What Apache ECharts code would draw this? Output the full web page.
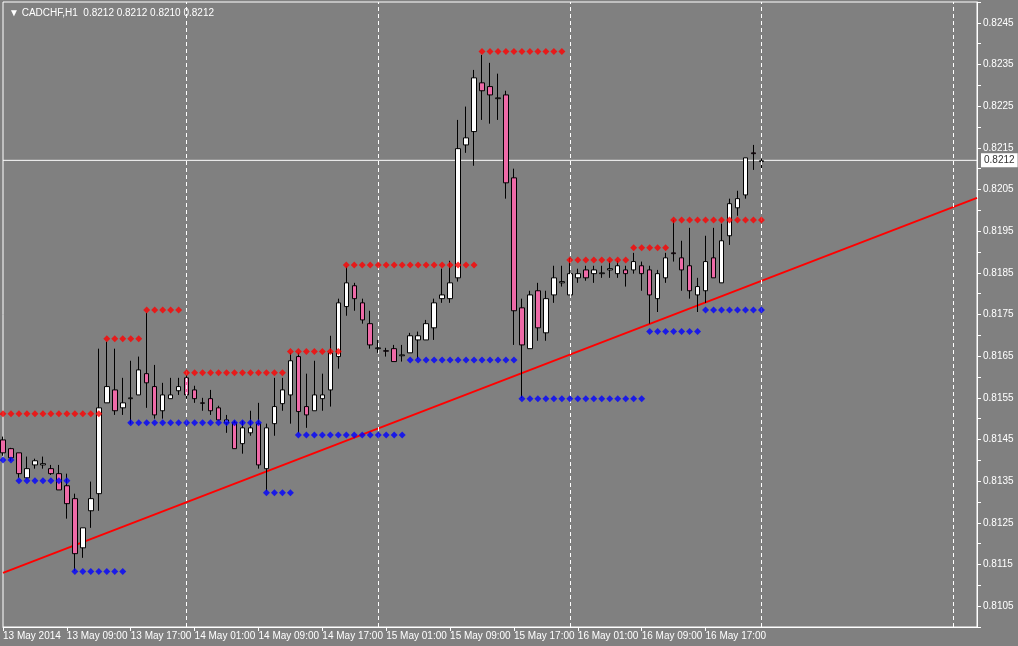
<!DOCTYPE html>
<html>
<head>
<meta charset="utf-8">
<script src="https://cdn.jsdelivr.net/npm/echarts@6/dist/echarts.min.js"></script>
<style>
html, body { margin: 0; padding: 0; background: #808080; }
#chart { width: 1018px; height: 646px; }
</style>
</head>
<body>
<div id="chart"></div>
<script>
// O, C, L, H per hour, 13 May 01:00 onward
var opens = [0.81449,0.81428,0.81418,0.81358,0.81389,0.81389,0.81380,0.81368,0.81339,0.81308,
  0.81190,0.81279,0.81320,0.81538,0.81569,0.81526,0.81548,0.81557,0.81608,0.81577,
  0.81519,0.81548,0.81567,0.81598,0.81569,0.81538,0.81548,0.81526,0.81490,0.81490,
  0.81440,0.81466,0.81488,0.81380,0.81488,0.81536,0.81557,0.81649,0.81529,0.81519,
  0.81548,0.81569,0.81649,0.81769,0.81819,0.81778,0.81728,0.81668,0.81663,0.81668,
  0.81651,0.81658,0.81689,0.81689,0.81718,0.81788,0.81788,0.81838,0.82157,0.82189,
  0.82306,0.82297,0.82268,0.82277,0.82078,0.81766,0.81668,0.81807,0.81706,0.81797,
  0.81826,0.81797,0.81838,0.81857,0.81848,0.81848,0.81857,0.81848,0.81857,0.81857,
  0.81867,0.81857,0.81788,0.81838,0.81898,0.81886,0.81867,0.81797,0.81807,0.81886,
  0.81826,0.81939,0.82006,0.82037,0.82138,0.82117];
var closes = [0.81418,0.81406,0.81368,0.81380,0.81399,0.81392,0.81368,0.81329,0.81296,0.81176,
  0.81238,0.81308,0.81526,0.81577,0.81519,0.81538,0.81550,0.81617,0.81586,0.81509,
  0.81557,0.81557,0.81577,0.81557,0.81548,0.81537,0.81519,0.81497,0.81497,0.81428,
  0.81478,0.81478,0.81389,0.81478,0.81529,0.81569,0.81639,0.81517,0.81509,0.81557,
  0.81557,0.81658,0.81778,0.81826,0.81788,0.81737,0.81677,0.81670,0.81662,0.81637,
  0.81653,0.81699,0.81699,0.81728,0.81778,0.81797,0.81826,0.82148,0.82174,0.82318,
  0.82287,0.82277,0.82270,0.82066,0.81759,0.81677,0.81797,0.81718,0.81788,0.81838,
  0.81829,0.81848,0.81848,0.81838,0.81857,0.81850,0.81860,0.81867,0.81848,0.81877,
  0.81848,0.81797,0.81848,0.81886,0.81896,0.81857,0.81807,0.81817,0.81877,0.81838,
  0.81927,0.82016,0.82028,0.82126,0.82136,0.82119];
var lows = [0.81411,0.81399,0.81358,0.81356,0.81380,0.81380,0.81365,0.81329,0.81260,0.81135,
  0.81166,0.81238,0.81279,0.81538,0.81509,0.81509,0.81488,0.81557,0.81526,0.81500,
  0.81500,0.81548,0.81557,0.81548,0.81538,0.81519,0.81509,0.81495,0.81466,0.81428,
  0.81416,0.81459,0.81380,0.81327,0.81459,0.81519,0.81488,0.81466,0.81478,0.81519,
  0.81519,0.81529,0.81620,0.81747,0.81759,0.81728,0.81668,0.81658,0.81649,0.81637,
  0.81637,0.81658,0.81644,0.81689,0.81689,0.81778,0.81778,0.81829,0.82138,0.82107,
  0.82217,0.82208,0.82217,0.82028,0.81677,0.81550,0.81668,0.81687,0.81687,0.81778,
  0.81817,0.81797,0.81826,0.81831,0.81826,0.81838,0.81838,0.81838,0.81817,0.81848,
  0.81807,0.81728,0.81756,0.81826,0.81877,0.81807,0.81788,0.81756,0.81778,0.81838,
  0.81826,0.81917,0.81987,0.82028,0.82097,0.82097];
var highs = [0.81457,0.81430,0.81418,0.81409,0.81404,0.81409,0.81389,0.81389,0.81368,0.81320,
  0.81238,0.81349,0.81668,0.81685,0.81668,0.81598,0.81639,0.81649,0.81754,0.81629,
  0.81586,0.81598,0.81598,0.81608,0.81579,0.81550,0.81569,0.81531,0.81509,0.81495,
  0.81495,0.81519,0.81538,0.81488,0.81598,0.81598,0.81658,0.81658,0.81608,0.81639,
  0.81608,0.81699,0.81788,0.81865,0.81826,0.81788,0.81759,0.81689,0.81670,0.81677,
  0.81677,0.81706,0.81709,0.81737,0.81788,0.81860,0.81879,0.82217,0.82249,0.82337,
  0.82373,0.82354,0.82328,0.82287,0.82100,0.81788,0.81807,0.81826,0.81807,0.81867,
  0.81867,0.81886,0.81860,0.81867,0.81867,0.81867,0.81879,0.81879,0.81867,0.81898,
  0.81877,0.81867,0.81857,0.81898,0.81977,0.81927,0.81958,0.81838,0.81939,0.81958,
  0.81968,0.82028,0.82047,0.82126,0.82157,0.82124];

// [first bar, last bar, price]
var resistance = [[0,12,0.81512],[13,17,0.81692],[18,22,0.81761],[23,35,0.81610],[36,42,0.81661],
  [43,59,0.81869],[60,70,0.82381],[71,78,0.81881],[79,83,0.81910],[84,95,0.81977]];
var support = [[0,1,0.81401],[2,8,0.81351],[9,15,0.81133],[16,32,0.81490],[33,36,0.81322],
  [37,50,0.81461],[51,64,0.81641],[65,80,0.81548],[81,87,0.81709],[88,95,0.81761]];

var trendEnds = [0.81130, 0.82030];
var lastPrice = 0.8212;
var tickLabels = ['13 May 2014','13 May 09:00','13 May 17:00','14 May 01:00','14 May 09:00',
  '14 May 17:00','15 May 01:00','15 May 09:00','15 May 17:00','16 May 01:00','16 May 09:00','16 May 17:00'];
var daySeparators = [23, 47, 71, 95, 119];

var nCat = 123;
var cats = [];
for (var i = 0; i < nCat; i++) cats.push(String(i));

var candles = [];
for (var i = 0; i < opens.length; i++) candles.push([opens[i], closes[i], lows[i], highs[i]]);

function dots(levels) {
    var out = [];
    levels.forEach(function (l) {
        for (var k = l[0]; k <= l[1]; k++) out.push([k, l[2]]);
    });
    return out;
}
var trend = [[0, trendEnds[0]], [nCat - 1, trendEnds[1]]];
var priceLine = [[0, lastPrice], [nCat - 1, lastPrice]];

function isTick(i) { return i % 8 === 0 && i / 8 < tickLabels.length; }

var chart = echarts.init(document.getElementById('chart'));
var font = 'Liberation Sans';
chart.setOption({
    backgroundColor: '#808080',
    animation: false,
    title: {
        text: '▼ CADCHF,H1  0.8212 0.8212 0.8210 0.8212',
        left: 4, top: 3,
        textStyle: { color: '#ffffff', fontSize: 10, fontWeight: 'normal', fontFamily: font }
    },
    grid: { left: 2, right: 41, top: 2, bottom: 19, show: true, borderColor: '#ffffff', borderWidth: 1 },
    xAxis: {
        type: 'category',
        data: cats,
        boundaryGap: false,
        axisLine: { lineStyle: { color: '#ffffff' } },
        axisTick: { interval: isTick, length: 4, lineStyle: { color: '#ffffff' } },
        axisLabel: {
            interval: 0,
            hideOverlap: false,
            showMinLabel: true,
            formatter: function (v) {
                var i = parseInt(v, 10);
                return isTick(i) ? tickLabels[i / 8] : '';
            },
            color: '#ffffff', fontSize: 10, fontFamily: font, align: 'left', margin: 4
        },
        splitLine: { show: false }
    },
    yAxis: {
        type: 'value',
        position: 'right',
        min: 0.8100, max: 0.8250, interval: 0.0005,
        axisLine: { show: true, lineStyle: { color: '#ffffff' } },
        axisTick: { show: true, length: 4, lineStyle: { color: '#ffffff' } },
        axisLabel: {
            color: '#ffffff', fontSize: 10, fontFamily: font, margin: 6,
            formatter: function (v) {
                var r = Math.round(v * 10000);
                return r % 2 === 1 ? v.toFixed(4) : '';
            }
        },
        splitLine: { show: false }
    },
    series: [
        {
            type: 'line',
            data: trend,
            showSymbol: false,
            lineStyle: { color: '#ff0000', width: 2 },
            z: 3,
            markLine: {
                silent: true, symbol: 'none', label: { show: false },
                lineStyle: { color: '#ffffff', type: [4, 3], width: 1 },
                data: daySeparators.map(function (d) { return { xAxis: d }; })
            }
        },
        {
            type: 'line',
            data: priceLine,
            showSymbol: false,
            lineStyle: { color: '#ffffff', width: 1 },
            z: 2,
            endLabel: {
                show: true, formatter: lastPrice.toFixed(4), color: '#333333',
                backgroundColor: '#ffffff', padding: [2, 3], fontSize: 10, fontFamily: font, distance: 4
            }
        },
        {
            type: 'candlestick',
            data: candles,
            barWidth: 5,
            z: 4,
            itemStyle: {
                color: '#ffffff', color0: '#ee6aa7',
                borderColor: '#000000', borderColor0: '#000000', borderWidth: 1
            }
        },
        {
            type: 'scatter', data: dots(resistance), symbol: 'diamond', symbolSize: 7,
            itemStyle: { color: '#ff0000' }, z: 5
        },
        {
            type: 'scatter', data: dots(support), symbol: 'diamond', symbolSize: 7,
            itemStyle: { color: '#0000ff' }, z: 5
        }
    ]
});
</script>
</body>
</html>
